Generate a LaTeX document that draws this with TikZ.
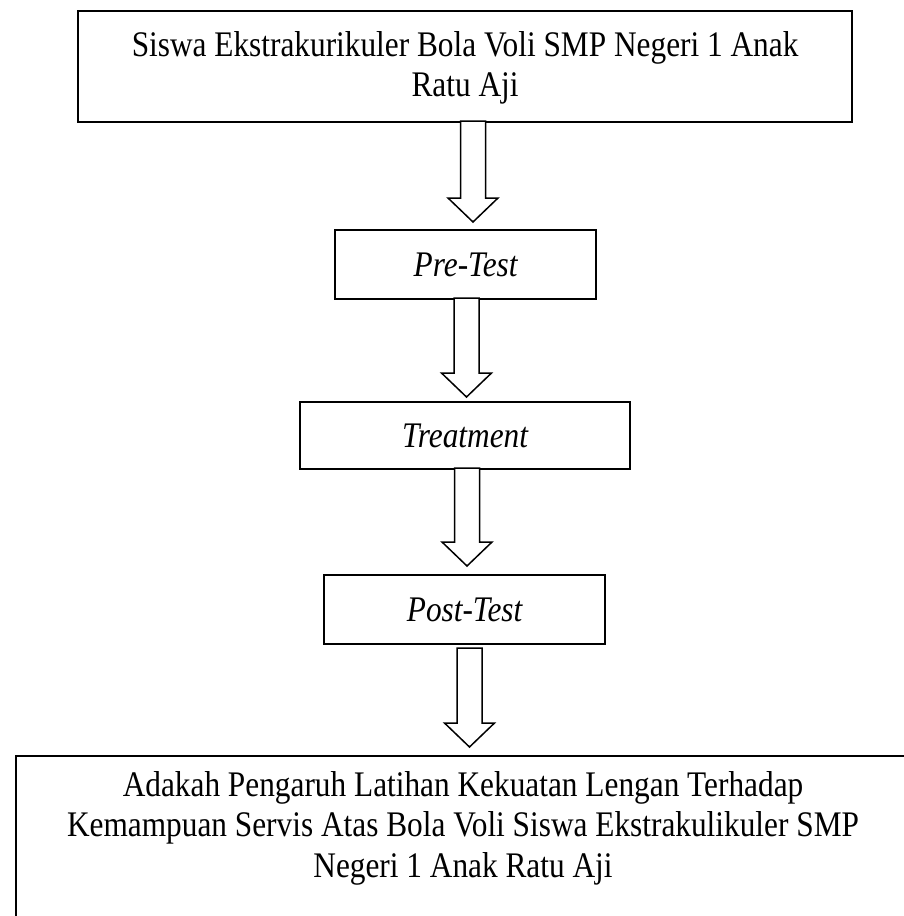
\documentclass[tikz,border=0pt]{standalone}
\usepackage{fontspec}
\setmainfont{Liberation Serif}[FakeStretch=0.87]
\begin{document}
\begin{tikzpicture}[x=1pt,y=1pt,
  boxnode/.style={draw, line width=2.2pt, inner sep=0pt, anchor=north west},
  txt/.style={align=center, inner sep=0pt, font=\fontsize{36}{40.5}\selectfont},
  ittxt/.style={txt, font=\fontsize{36}{40.5}\selectfont\itshape},
  arrowline/.style={draw, fill=white, line width=1.5pt, line join=miter},
  pics/barrow/.style={code={
    \draw[arrowline] (-12.5,0) -- (-12.5,{-#1+24}) -- (-25,{-#1+24}) -- (0,{-#1}) -- (25,{-#1+24}) -- (12.5,{-#1+24}) -- (12.5,0) -- cycle;
  }}]
\useasboundingbox (0,0) rectangle (904,-916);
\clip (0,0) rectangle (904,-916);
% boxes
\node[boxnode, minimum width=774, minimum height=111] (top) at (77,-10) {};
\node[txt] (toptxt) at ([yshift=-1]top.center) {Siswa Ekstrakurikuler Bola Voli SMP Negeri 1 Anak\\Ratu Aji};
\node[boxnode, minimum width=261, minimum height=69] (pre) at (334,-229) {};
\node[ittxt] (pretxt) at (pre.center) {Pre-Test};
\node[boxnode, minimum width=330, minimum height=67] (treat) at (299,-401) {};
\node[ittxt] (treattxt) at (treat.center) {Treatment};
\node[boxnode, minimum width=281, minimum height=69] (post) at (323,-574) {};
\node[ittxt] (posttxt) at (post.center) {Post-Test};
\node[boxnode, minimum width=900, minimum height=200] (res) at (15,-755) {};
\node[txt] (restxt) at (463,-828) {Adakah Pengaruh Latihan Kekuatan Lengan Terhadap\\Kemampuan Servis Atas Bola Voli Siswa Ekstrakulikuler SMP\\Negeri 1 Anak Ratu Aji};
% block arrows
\pic at (473,-121) {barrow=101};
\pic at (466.5,-298) {barrow=99};
\pic at (467,-468) {barrow=98};
\pic at (469.5,-648) {barrow=99};
\end{tikzpicture}
\end{document}
